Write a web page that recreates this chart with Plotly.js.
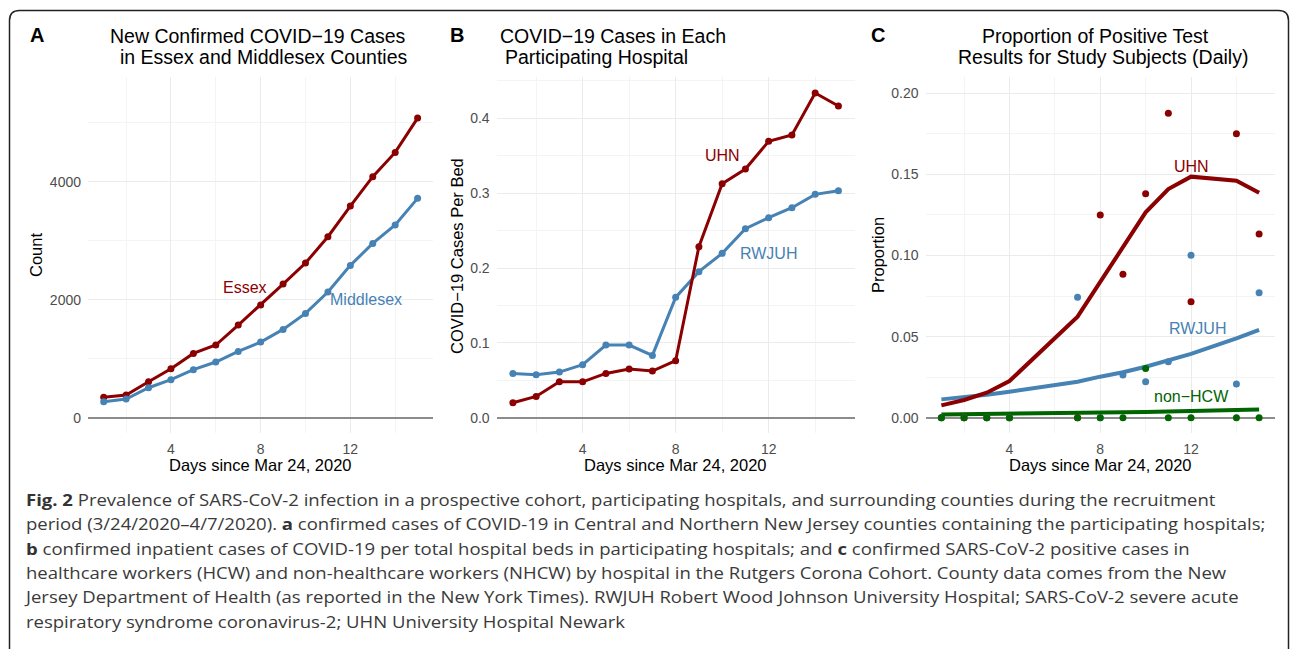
<!DOCTYPE html>
<html>
<head>
<meta charset="utf-8">
<script src="https://cdn.plot.ly/plotly-3.0.1.min.js"></script>
<style>
html,body{margin:0;padding:0;background:#fff;}
#wrap{position:relative;width:1290px;height:649px;overflow:hidden;}
#chart{position:absolute;left:0;top:0;width:1290px;height:649px;}
#caption{position:absolute;left:26px;top:487.6px;font-family:'Open Sans',sans-serif;font-size:16px;
  line-height:24.45px;color:#3A3A3A;white-space:nowrap;}
#caption div{transform:scaleX(1.157);transform-origin:0 50%;}
#caption b{color:#333;}
</style>
</head>
<body>
<div id="wrap">
<div id="chart"></div>
<div id="caption"></div>
</div>
<script>
// ---------- data ----------
const days = [1,2,3,4,5,6,7,8,9,10,11,12,13,14,15];
const essexCases = [345,384,610,830,1090,1232,1571,1910,2266,2621,3068,3588,4085,4497,5079];
const middlesexCases = [271,316,508,644,814,944,1124,1282,1497,1768,2130,2582,2955,3266,3718];

const uhnPerBed = [0.020,0.0285,0.048,0.048,0.0592,0.065,0.0624,0.0762,0.2285,0.3127,0.3323,0.3693,0.3777,0.4339,0.4165];
const rwjuhPerBed = [0.0592,0.0575,0.061,0.0708,0.0971,0.0971,0.0833,0.1608,0.1951,0.2196,0.2526,0.2673,0.2806,0.2984,0.3033];

const testDays = [1,2,3,4,7,8,9,10,11,12,14,15];
const uhnProp = [0,0,0,0,0,0.125,0.0884,0.138,0.1877,0.0715,0.1751,0.1133];
const rwjuhProp = [0,0,0,0,0.0742,0,0.0263,0.0222,0.0345,0.1001,0.0208,0.0771];
const nonHcwProp = [0,0,0,0,0,0,0,0.0304,0,0,0,0];
const uhnFit = [0.0076,0.0109,0.0154,0.0226,0.0623,0.0839,0.1054,0.1266,0.141,0.1486,0.1461,0.1387];
const rwjuhFit = [0.0113,0.0125,0.0141,0.016,0.0222,0.0253,0.028,0.0314,0.0351,0.0393,0.0489,0.0541];
const nonHcwFit = [0.0020,0.0021,0.0022,0.0024,0.0029,0.0031,0.0033,0.0035,0.0038,0.0041,0.0047,0.0051];

const xTicks = [4,8,12];
const xTickText = ['4','8','12'];

const panelTitles = {
  A: ['New Confirmed COVID\u221219 Cases', 'in Essex and Middlesex Counties'],
  B: ['COVID\u221219 Cases in Each', 'Participating Hospital'],
  C: ['Proportion of Positive Test', 'Results for Study Subjects (Daily)']
};
const yTitles = ['Count', 'COVID\u221219 Cases Per Bed', 'Proportion'];
const xTitle = 'Days since Mar 24, 2020';

const captionLines = [
  '<b>Fig. 2</b> Prevalence of SARS-CoV-2 infection in a prospective cohort, participating hospitals, and surrounding counties during the recruitment',
  'period (3/24/2020\u20134/7/2020). <b>a</b> confirmed cases of COVID-19 in Central and Northern New Jersey counties containing the participating hospitals;',
  '<b>b</b> confirmed inpatient cases of COVID-19 per total hospital beds in participating hospitals; and <b>c</b> confirmed SARS-CoV-2 positive cases in',
  'healthcare workers (HCW) and non-healthcare workers (NHCW) by hospital in the Rutgers Corona Cohort. County data comes from the New',
  'Jersey Department of Health (as reported in the New York Times). RWJUH Robert Wood Johnson University Hospital; SARS-CoV-2 severe acute',
  'respiratory syndrome coronavirus-2; UHN University Hospital Newark'
];

// ---------- style ----------
const RED = '#8B0000', BLUE = '#4682B4', GREEN = '#006400';
const W = 1290, H = 649;
const PX = p => p / W;
const PY = p => 1 - p / H;
const FONT = 'Liberation Sans, Arial, sans-serif';

const traces = [];
// Panel A
traces.push({x: days, y: essexCases, xaxis:'x', yaxis:'y', mode:'lines+markers',
  line:{color:RED, width:3}, marker:{color:RED, size:7}, hoverinfo:'skip'});
traces.push({x: days, y: middlesexCases, xaxis:'x', yaxis:'y', mode:'lines+markers',
  line:{color:BLUE, width:3}, marker:{color:BLUE, size:7}, hoverinfo:'skip'});
// Panel B
traces.push({x: days, y: rwjuhPerBed, xaxis:'x2', yaxis:'y2', mode:'lines+markers',
  line:{color:BLUE, width:3}, marker:{color:BLUE, size:7}, hoverinfo:'skip'});
traces.push({x: days, y: uhnPerBed, xaxis:'x2', yaxis:'y2', mode:'lines+markers',
  line:{color:RED, width:3}, marker:{color:RED, size:7}, hoverinfo:'skip'});
// Panel C
traces.push({x: testDays, y: rwjuhFit, xaxis:'x3', yaxis:'y3', mode:'lines',
  line:{color:BLUE, width:4}, hoverinfo:'skip'});
traces.push({x: testDays, y: uhnFit, xaxis:'x3', yaxis:'y3', mode:'lines',
  line:{color:RED, width:4}, hoverinfo:'skip'});
traces.push({x: testDays, y: nonHcwFit, xaxis:'x3', yaxis:'y3', mode:'lines',
  line:{color:GREEN, width:4}, hoverinfo:'skip'});
traces.push({x: testDays, y: uhnProp, xaxis:'x3', yaxis:'y3', mode:'markers',
  marker:{color:RED, size:7}, hoverinfo:'skip'});
traces.push({x: testDays, y: rwjuhProp, xaxis:'x3', yaxis:'y3', mode:'markers',
  marker:{color:BLUE, size:7}, hoverinfo:'skip'});
traces.push({x: testDays, y: nonHcwProp, xaxis:'x3', yaxis:'y3', mode:'markers',
  marker:{color:GREEN, size:7}, hoverinfo:'skip'});

const yDom = [PY(433), PY(77)];
function xAxis(domain){
  return {domain: domain, range:[0.3,15.7], tickmode:'array', tickvals:xTicks, ticktext:xTickText,
    showgrid:true, gridcolor:'#EBEBEB', gridwidth:1, zeroline:false, showline:false, ticks:'',
    tickfont:{family:FONT, size:14, color:'#4D4D4D'}, ticklabelstandoff:6,
    minor:{tickvals:[2,6,10,14], showgrid:true, gridcolor:'#F4F4F4', gridwidth:1, ticks:''},
    fixedrange:true};
}
function yAxis(range, dtick, fmt, anchor){
  return {domain: yDom, range: range, tick0:0, dtick:dtick, tickformat:fmt, anchor:anchor,
    showgrid:true, gridcolor:'#EBEBEB', gridwidth:1, zeroline:true, zerolinecolor:'#8C8C8C', zerolinewidth:2,
    showline:false, ticks:'', tickfont:{family:FONT, size:14, color:'#4D4D4D'}, ticklabelstandoff:6,
    minor:{dtick:dtick/2, tick0:0, showgrid:true, gridcolor:'#F4F4F4', gridwidth:1, ticks:''},
    fixedrange:true};
}

const ann = [];
function paperText(text, x, y, size, color, opts){
  ann.push(Object.assign({text:text, xref:'paper', yref:'paper', x:PX(x), y:PY(y), showarrow:false,
    xanchor:'center', yanchor:'middle', font:{family:FONT, size:size, color:color}}, opts||{}));
}
// panel letters
paperText('<b>A</b>', 36.5, 35.5, 20, '#000');
paperText('<b>B</b>', 457, 35.5, 20, '#000');
paperText('<b>C</b>', 878.3, 35.5, 20, '#000');
// titles
paperText(panelTitles.A[0], 257.5, 36, 19.5, '#000');
paperText(panelTitles.A[1], 263, 57, 19.5, '#000');
paperText(panelTitles.B[0], 497.7, 36, 19.5, '#000', {xanchor:'left'});
paperText(panelTitles.B[1], 503, 57, 19.5, '#000', {xanchor:'left'});
paperText(panelTitles.C[0], 1095.8, 36, 19.5, '#000');
paperText(panelTitles.C[1], 1102.8, 57, 19.5, '#000');
// axis titles
paperText(xTitle, 260.5, 465, 16.5, '#000');
paperText(xTitle, 675.5, 465, 16.5, '#000');
paperText(xTitle, 1100, 465, 16.5, '#000');
paperText(yTitles[0], 36, 255, 16.5, '#000', {textangle:-90});
paperText(yTitles[1], 457, 256, 16.5, '#000', {textangle:-90});
paperText(yTitles[2], 878, 255, 16.5, '#000', {textangle:-90});
// series labels (data coords)
function dataText(text, xr, yr, x, y, color){
  ann.push({text:text, xref:xr, yref:yr, x:x, y:y, showarrow:false, xanchor:'center', yanchor:'middle',
    font:{family:FONT, size:16, color:color}});
}
dataText('Essex', 'x', 'y', 7.3, 2200, RED);
dataText('Middlesex', 'x', 'y', 12.7, 2000, BLUE);
dataText('UHN', 'x2', 'y2', 10, 0.35, RED);
dataText('RWJUH', 'x2', 'y2', 12, 0.22, BLUE);
dataText('UHN', 'x3', 'y3', 12, 0.155, RED);
dataText('RWJUH', 'x3', 'y3', 12.3, 0.055, BLUE);
dataText('non\u2212HCW', 'x3', 'y3', 12, 0.013, GREEN);

// caption (HTML text below the plot area)
document.getElementById('caption').innerHTML = captionLines.map(t => '<div>' + t + '</div>').join('');

// border (rounded rectangle, open at bottom)
const bx0 = 9.5, by0 = 10.5, bx1 = 1288.5, r = 10;
const borderPath = `M ${PX(bx0)} ${PY(H+20)} L ${PX(bx0)} ${PY(by0+r)} Q ${PX(bx0)} ${PY(by0)} ${PX(bx0+r)} ${PY(by0)} ` +
  `L ${PX(bx1-r)} ${PY(by0)} Q ${PX(bx1)} ${PY(by0)} ${PX(bx1)} ${PY(by0+r)} L ${PX(bx1)} ${PY(H+20)}`;

const layout = {
  width: W, height: H, margin:{l:0, r:0, t:0, b:0},
  paper_bgcolor:'rgba(0,0,0,0)', plot_bgcolor:'rgba(0,0,0,0)', showlegend:false,
  xaxis: xAxis([PX(88), PX(433.3)]),
  xaxis2: xAxis([PX(496.6), PX(854.7)]),
  xaxis3: xAxis([PX(925.5), PX(1275)]),
  yaxis: yAxis([-259, 5775], 2000, 'd', 'x'),
  yaxis2: yAxis([-0.0204, 0.4552], 0.1, '.1f', 'x2'),
  yaxis3: yAxis([-0.00943, 0.21005], 0.05, '.2f', 'x3'),
  annotations: ann,
  shapes: [{type:'path', xref:'paper', yref:'paper', path: borderPath, line:{color:'#222', width:1.5}}]
};
layout.xaxis.anchor = 'y';
layout.xaxis2.anchor = 'y2';
layout.xaxis3.anchor = 'y3';

Plotly.newPlot('chart', traces, layout, {staticPlot:true, displayModeBar:false});
</script>
</body>
</html>
